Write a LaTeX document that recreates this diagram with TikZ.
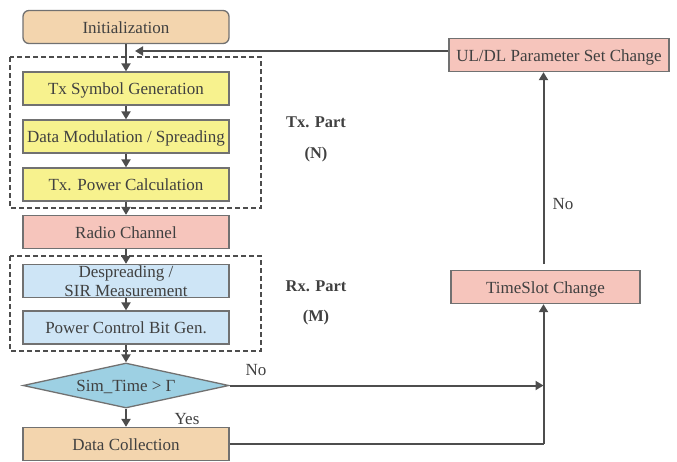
\documentclass[tikz,border=0pt]{standalone}
\usepackage{fontspec}
\setmainfont{Liberation Serif}
\usetikzlibrary{shapes.geometric,arrows.meta}
\definecolor{txt}{HTML}{404040}
\definecolor{ln}{HTML}{4D4D4D}
\definecolor{peach}{HTML}{F3D5AE}
\definecolor{yel}{HTML}{F7F28E}
\definecolor{pnk}{HTML}{F6C5BC}
\definecolor{blu}{HTML}{CEE5F6}
\definecolor{dia}{HTML}{9DD0E3}
\tikzset{
  box/.style={draw=ln!80, line width=1.3pt, minimum width=206pt, minimum height=33pt, inner sep=0pt, text=txt, font=\fontsize{17}{19}\selectfont},
  onel/.style={text height=12pt, text depth=0pt},
  arr/.style={draw=ln, line width=2pt, -{Triangle[length=8pt,width=9pt]}},
  plain/.style={draw=ln, line width=2pt},
  grp/.style={draw=ln, line width=1.5pt, dash pattern=on 5pt off 3pt},
  lbl/.style={text=txt, font=\fontsize{17}{19}\selectfont},
  blbl/.style={text=txt, font=\bfseries\fontsize{16.4}{19}\selectfont}
}
\begin{document}
\begin{tikzpicture}[x=1pt,y=-1pt]
\useasboundingbox (0,0) rectangle (677,461);
% groups
\draw[grp] (10,57) rectangle (261,208);
\draw[grp] (10,256) rectangle (261,351);
% nodes
\node[box, onel, fill=peach, rounded corners=6pt] (init) at (126,27) {Initialization};
\node[box, onel, fill=yel] (tx) at (126,88.5) {Tx Symbol Generation};
\node[box, onel, fill=yel] (mod) at (126,136.5) {Data Modulation / Spreading};
\node[box, onel, fill=yel] (pow) at (126,184.5) {Tx. Power Calculation};
\node[box, onel, fill=pnk] (rc) at (126,232) {Radio Channel};
\node[box, fill=blu, align=center, font=\fontsize{17}{19}\selectfont] (des) at (126,281) {Despreading /\\SIR Measurement};
\node[box, onel, fill=blu] (pcb) at (126,327.5) {Power Control Bit Gen.};
\node[draw=ln!80, line width=1.3pt, fill=dia, diamond, aspect=4.58, minimum width=206pt, minimum height=45pt, inner sep=0pt, text=txt, font=\fontsize{17}{19}\selectfont, onel] (sim) at (126,385.5) {Sim\_Time > Γ};
\node[box, onel, fill=peach] (dc) at (126,444) {Data Collection};
\node[box, onel, fill=pnk, minimum width=189pt] (ts) at (545.5,287) {TimeSlot Change};
\node[box, onel, fill=pnk, minimum width=220pt] (ul) at (559,55) {UL/DL Parameter Set Change};
% labels
\node[blbl] (txp) at (316,122) {Tx. Part};
\node[blbl] (txn) at (316,155) {(N)};
\node[blbl] (rxp) at (316,286) {Rx. Part};
\node[blbl] (rxm) at (316,318) {(M)};
\node[lbl] (yes) at (187,419) {Yes};
\node[lbl] (no1) at (256,370) {No};
\node[lbl] (no2) at (563,204) {No};
% connectors
\draw[arr] (init) -- (tx);
\draw[arr] (tx) -- (mod);
\draw[arr] (mod) -- (pow);
\draw[arr] (pow) -- (rc);
\draw[arr] (rc) -- (des);
\draw[arr] (des) -- (pcb);
\draw[arr] (pcb) -- (sim);
\draw[arr] (sim) -- (dc);
\coordinate (fb) at (135,51);
\draw[arr] (ul.west |- fb) -- (fb);
\coordinate (jn) at (543.5,385.5);
\draw[arr] (sim.east) -- (jn);
\coordinate (bc) at (543.5,444);
\draw[plain] (dc.east) -- (bc);
\draw[arr] (bc) -- (bc |- ts.south);
\coordinate (tst) at (543.5,264);
\draw[arr] (tst) -- (tst |- ul.south);
\end{tikzpicture}
\end{document}
